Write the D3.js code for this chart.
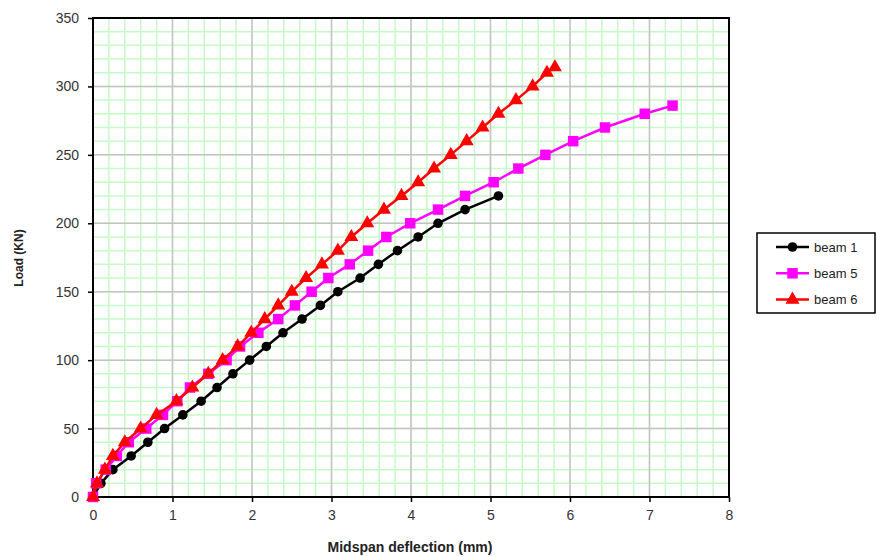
<!DOCTYPE html>
<html>
<head>
<meta charset="utf-8">
<script src="https://cdn.jsdelivr.net/npm/d3@7"></script>
<style>
body { margin: 0; background: #fff; }
text { font-family: Arial, "Liberation Sans", sans-serif; }
</style>
</head>
<body>
<svg id="chart" width="877" height="556"></svg>
<script>
// load steps (kN) and midspan deflections (mm)
var beam1Load = [0, 10, 20, 30, 40, 50, 60, 70, 80, 90, 100, 110, 120, 130, 140, 150, 160, 170, 180, 190, 200, 210, 220];
var beam1Defl = [0, 0.1, 0.25, 0.48, 0.69, 0.9, 1.13, 1.36, 1.56, 1.76, 1.97, 2.18, 2.39, 2.63, 2.86, 3.08, 3.36, 3.59, 3.83, 4.09, 4.34, 4.68, 5.1];

var beam5Load = [0, 10, 20, 30, 40, 50, 60, 70, 80, 90, 100, 110, 120, 130, 140, 150, 160, 170, 180, 190, 200, 210, 220, 230, 240, 250, 260, 270, 280, 286];
var beam5Defl = [0, 0.04, 0.16, 0.3, 0.45, 0.67, 0.88, 1.06, 1.22, 1.45, 1.68, 1.85, 2.08, 2.33, 2.54, 2.75, 2.96, 3.23, 3.46, 3.69, 3.99, 4.34, 4.68, 5.04, 5.35, 5.69, 6.04, 6.44, 6.94, 7.29];

var beam6Load = [0, 10, 20, 30, 40, 50, 60, 70, 80, 90, 100, 110, 120, 130, 140, 150, 160, 170, 180, 190, 200, 210, 220, 230, 240, 250, 260, 270, 280, 290, 300, 310, 314];
var beam6Defl = [0, 0.05, 0.15, 0.25, 0.4, 0.6, 0.8, 1.05, 1.25, 1.45, 1.63, 1.82, 1.99, 2.16, 2.33, 2.5, 2.68, 2.88, 3.08, 3.25, 3.45, 3.66, 3.88, 4.09, 4.29, 4.5, 4.7, 4.9, 5.1, 5.32, 5.53, 5.71, 5.81];

var seriesNames = ["beam 1", "beam 5", "beam 6"];
var xTicks = [0, 1, 2, 3, 4, 5, 6, 7, 8];
var yTicks = [0, 50, 100, 150, 200, 250, 300, 350];

var series = [
    {name: seriesNames[0], color: "#000000", symbol: d3.symbolCircle, size: 72, xs: beam1Defl, ys: beam1Load},
    {name: seriesNames[1], color: "#ff00ff", symbol: d3.symbolSquare, size: 110, xs: beam5Defl, ys: beam5Load},
    {name: seriesNames[2], color: "#ff0000", symbol: d3.symbolTriangle, size: 85, xs: beam6Defl, ys: beam6Load}
];

var svg = d3.select("#chart");
var margin = {top: 18, left: 93};
var width = 636, height = 479;

var x = d3.scaleLinear().domain([0, 8]).range([0, width]);
var y = d3.scaleLinear().domain([0, 350]).range([height, 0]);

var g = svg.append("g")
    .attr("transform", "translate(" + margin.left + "," + margin.top + ")");

// minor grid (light green)
g.append("g").selectAll("line")
    .data(d3.range(0, 8.001, 0.2))
    .enter().append("line")
    .attr("x1", function (d) { return x(d); })
    .attr("x2", function (d) { return x(d); })
    .attr("y1", 0).attr("y2", height)
    .attr("stroke", "#c6fac6").attr("stroke-width", 1.5);
g.append("g").selectAll("line")
    .data(d3.range(0, 350.1, 10))
    .enter().append("line")
    .attr("y1", function (d) { return y(d); })
    .attr("y2", function (d) { return y(d); })
    .attr("x1", 0).attr("x2", width)
    .attr("stroke", "#c6fac6").attr("stroke-width", 1.5);

// major grid (gray)
g.append("g").selectAll("line")
    .data(xTicks)
    .enter().append("line")
    .attr("x1", function (d) { return x(d); })
    .attr("x2", function (d) { return x(d); })
    .attr("y1", 0).attr("y2", height)
    .attr("stroke", "#c4c4c4").attr("stroke-width", 1.5);
g.append("g").selectAll("line")
    .data(yTicks)
    .enter().append("line")
    .attr("y1", function (d) { return y(d); })
    .attr("y2", function (d) { return y(d); })
    .attr("x1", 0).attr("x2", width)
    .attr("stroke", "#c4c4c4").attr("stroke-width", 1.5);

// axes
var xAxis = g.append("g")
    .attr("transform", "translate(0," + height + ")")
    .call(d3.axisBottom(x).tickValues(xTicks).tickSize(5).tickPadding(8).tickFormat(d3.format("d")));
var yAxis = g.append("g")
    .call(d3.axisLeft(y).tickValues(yTicks).tickSize(5).tickPadding(9).tickFormat(d3.format("d")));
[xAxis, yAxis].forEach(function (a) {
    a.select(".domain").remove();
    a.selectAll(".tick line").attr("stroke", "#000").attr("stroke-width", 1.5);
    a.selectAll(".tick text").attr("fill", "#333").style("font-size", "14px");
});

// frame
g.append("rect")
    .attr("x", 0).attr("y", 0)
    .attr("width", width).attr("height", height)
    .attr("fill", "none").attr("stroke", "#000").attr("stroke-width", 2);

// series
var line = d3.line()
    .x(function (d) { return x(d[0]); })
    .y(function (d) { return y(d[1]); });

series.forEach(function (s) {
    var pts = s.xs.map(function (v, i) { return [v, s.ys[i]]; });
    g.append("path")
        .datum(pts)
        .attr("d", line)
        .attr("fill", "none")
        .attr("stroke", s.color)
        .attr("stroke-width", 2.5);
    g.append("g").selectAll("path")
        .data(pts)
        .enter().append("path")
        .attr("d", d3.symbol().type(s.symbol).size(s.size))
        .attr("transform", function (d) { return "translate(" + x(d[0]) + "," + y(d[1]) + ")"; })
        .attr("fill", s.color);
});

// axis titles
svg.append("text")
    .attr("x", 410).attr("y", 552)
    .attr("text-anchor", "middle")
    .style("font-size", "14px").style("font-weight", "bold")
    .attr("fill", "#222")
    .text("Midspan deflection (mm)");
svg.append("text")
    .attr("transform", "translate(23,258) rotate(-90)")
    .attr("text-anchor", "middle")
    .style("font-size", "12px").style("font-weight", "bold")
    .attr("fill", "#222")
    .text("Load (KN)");

// legend
var legend = svg.append("g").attr("transform", "translate(757,233)");
legend.append("rect")
    .attr("width", 118).attr("height", 80)
    .attr("fill", "#fff").attr("stroke", "#000").attr("stroke-width", 1.5);
var item = legend.selectAll(".item")
    .data(series)
    .enter().append("g")
    .attr("class", "item")
    .attr("transform", function (d, i) { return "translate(0," + (14 + i * 26.3) + ")"; });
item.append("line")
    .attr("x1", 19).attr("x2", 52)
    .attr("stroke", function (d) { return d.color; })
    .attr("stroke-width", 2.5);
item.append("path")
    .attr("d", function (d) { return d3.symbol().type(d.symbol).size(d.size)(); })
    .attr("transform", "translate(35.5,0)")
    .attr("fill", function (d) { return d.color; });
item.append("text")
    .attr("x", 57).attr("dy", "0.35em")
    .style("font-size", "13px")
    .attr("fill", "#222")
    .text(function (d) { return d.name; });
</script>
</body>
</html>
